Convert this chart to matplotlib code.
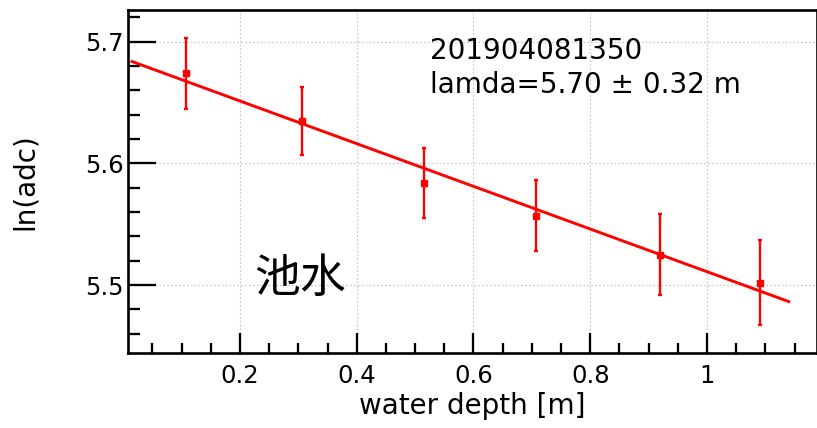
import matplotlib
matplotlib.use("Agg")
import matplotlib.pyplot as plt
import numpy as np
from matplotlib.ticker import MultipleLocator

plt.rcParams['font.family'] = ['DejaVu Sans']

# data
depth = [0.107, 0.306, 0.516, 0.707, 0.920, 1.091]
ln_adc = [5.674, 5.635, 5.584, 5.557, 5.525, 5.502]
ln_err = [0.029, 0.028, 0.029, 0.029, 0.033, 0.035]
fit_intercept = 5.6864
fit_lambda = 5.70
fit_range = [0.015, 1.14]
run_label = "201904081350"
fit_label = "lamda=5.70 ± 0.32 m"
water_label = "池水"

fig = plt.figure(figsize=(8.17, 4.28), dpi=100)
ax = fig.add_axes([0.157, 0.1752, 0.8424, 0.8014])

ax.set_xlim(0.00866, 1.1876)
ax.set_ylim(5.4441, 5.7261)

ax.grid(True, which='major', color='#c4c4c4', linestyle=(0, (1.5, 2)), linewidth=0.8)

xf = np.linspace(fit_range[0], fit_range[1], 50)
yf = fit_intercept - xf / fit_lambda
ax.plot(xf, yf, color='#ff0000', linewidth=2.1, zorder=3)

ax.errorbar(depth, ln_adc, yerr=ln_err, fmt='s', color='#ff0000', markersize=5,
            elinewidth=1.7, capsize=1.2, capthick=1.7, zorder=4)

ax.set_xticks([0.2, 0.4, 0.6, 0.8, 1.0])
ax.set_xticklabels(['0.2', '0.4', '0.6', '0.8', '1'])
ax.set_yticks([5.5, 5.6, 5.7])
ax.set_yticklabels(['5.5', '5.6', '5.7'])
ax.xaxis.set_minor_locator(MultipleLocator(0.05))
ax.yaxis.set_minor_locator(MultipleLocator(0.02))

ax.tick_params(axis='both', which='both', direction='in', width=1.65, color='black',
               top=False, right=False)
ax.tick_params(axis='both', which='major', labelsize=17.5)
ax.tick_params(axis='x', which='major', length=14.4, pad=8)
ax.tick_params(axis='y', which='major', length=20, pad=3.6)
ax.tick_params(axis='x', which='minor', length=7.2)
ax.tick_params(axis='y', which='minor', length=8.6)

for s in ax.spines.values():
    s.set_linewidth(1.9)

ax.set_xlabel('water depth [m]', fontsize=20, labelpad=3)
ax.set_ylabel('ln(adc)', fontsize=20, labelpad=33)

ax.text(0.439, 0.858, run_label, transform=ax.transAxes, fontsize=20, va='baseline', ha='left')
ax.text(0.439, 0.759, fit_label, transform=ax.transAxes, fontsize=20, va='baseline', ha='left')
ax.text(0.183, 0.177, water_label, transform=ax.transAxes, fontsize=33, va='baseline', ha='left',
        family=['Noto Sans CJK SC', 'DejaVu Sans'])

fig.savefig('out.png', dpi=100)
